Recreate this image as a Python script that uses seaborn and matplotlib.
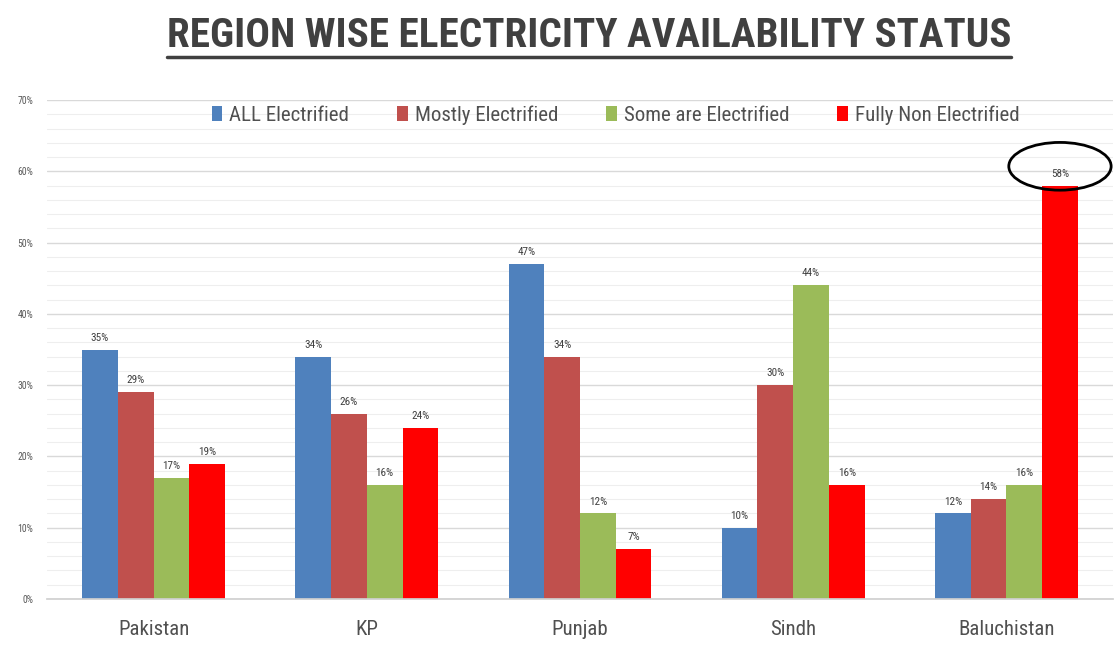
import matplotlib
matplotlib.use("Agg")
import matplotlib.pyplot as plt
from matplotlib import font_manager
from matplotlib.lines import Line2D
from matplotlib.patches import Ellipse
from matplotlib.ticker import MultipleLocator, FuncFormatter
import pandas as pd
import seaborn as sns

# ---- data -------------------------------------------------------------
regions = ["Pakistan", "KP", "Punjab", "Sindh", "Baluchistan"]
series = ["ALL Electrified", "Mostly Electrified",
          "Some are Electrified", "Fully Non Electrified"]
all_electrified = [35, 34, 47, 10, 12]
mostly_electrified = [29, 26, 34, 30, 14]
some_electrified = [17, 16, 12, 44, 16]
fully_non_electrified = [19, 24, 7, 16, 58]
colors = ["#4F81BD", "#C0504D", "#9BBB59", "#FF0000"]
y_ticks = [0, 10, 20, 30, 40, 50, 60, 70]
title = "REGION WISE ELECTRICITY AVAILABILITY STATUS"

values = [all_electrified, mostly_electrified, some_electrified, fully_non_electrified]
df = pd.DataFrame(
    [(r, s, v) for s, vals in zip(series, values) for r, v in zip(regions, vals)],
    columns=["Region", "Status", "Share"],
)

# ---- fonts ------------------------------------------------------------
sns.set_theme(style="white")
available = {f.name for f in font_manager.fontManager.ttflist}
narrow = next((f for f in ["Liberation Sans Narrow", "Roboto Condensed",
                           "Open Sans Condensed", "Lato"] if f in available), "DejaVu Sans")
plt.rcParams["font.family"] = [narrow, "DejaVu Sans"]

W, H = 1115, 645
fig = plt.figure(figsize=(W / 100, H / 100), dpi=100)
ax_left, ax_right, ax_bottom, ax_top = 47, 1113, 599, 100
ax = fig.add_axes([ax_left / W, 1 - ax_bottom / H,
                   (ax_right - ax_left) / W, (ax_bottom - ax_top) / H])

sns.barplot(data=df, x="Region", y="Share", hue="Status", hue_order=series,
            order=regions, palette=colors, width=0.67, gap=0, saturation=1,
            edgecolor="none", ax=ax)

ax.set_ylim(0, 70)
ax.set_xlim(-0.5, len(regions) - 0.5)
ax.set_yticks(y_ticks)
ax.yaxis.set_major_formatter(FuncFormatter(lambda v, _: f"{v:.0f}%"))
ax.yaxis.set_minor_locator(MultipleLocator(2))
ax.grid(which="major", axis="y", color="#d9d9d9", lw=1.0)
ax.grid(which="minor", axis="y", color="#eeeeee", lw=0.8)
ax.set_axisbelow(True)
for side in ["left", "right", "top"]:
    ax.spines[side].set_visible(False)
ax.spines["bottom"].set_color("#d0d0d0")
ax.tick_params(axis="y", which="both", length=0, labelsize=7, labelcolor="#595959", pad=10)
ax.tick_params(axis="x", length=0, labelsize=15, labelcolor="#505050", pad=15)
ax.set_xlabel("")
ax.set_ylabel("")

# value labels above each bar
for container in ax.containers:
    ax.bar_label(container, fmt="%.0f%%", padding=5, fontsize=8, color="#404040")

# legend across the top of the plot area
handles, labels = ax.get_legend_handles_labels()
ax.legend(handles, labels, loc="center", bbox_to_anchor=(0.5335, 0.97), ncol=4,
          frameon=False, fontsize=15, handlelength=0.5, handleheight=0.8,
          handletextpad=0.35, columnspacing=2.3, labelcolor="#505050")

# highlight ring around the largest value
big_bar = ax.containers[3][4]
cx = big_bar.get_x() + big_bar.get_width() / 2
ax.add_patch(Ellipse((cx, 60.7), width=0.48, height=6.7, fill=False,
                     edgecolor="black", lw=2, clip_on=False, zorder=5))

# title, scaled to span its band, with an underline beneath
title_txt = fig.text(589 / W, 1 - 36 / H, title, ha="center", va="center",
                     fontsize=30, fontweight="bold", color="#404040")
fig.canvas.draw()
renderer = fig.canvas.get_renderer()
bb = title_txt.get_window_extent(renderer)
title_txt.set_fontsize(30 * 842 / bb.width)
fig.canvas.draw()
bb = title_txt.get_window_extent(renderer)
fig.add_artist(Line2D([bb.x0 / W, bb.x1 / W], [1 - 57 / H, 1 - 57 / H],
                      transform=fig.transFigure, color="#404040", lw=2.5))

fig.savefig("out.png", dpi=100, facecolor="white")
